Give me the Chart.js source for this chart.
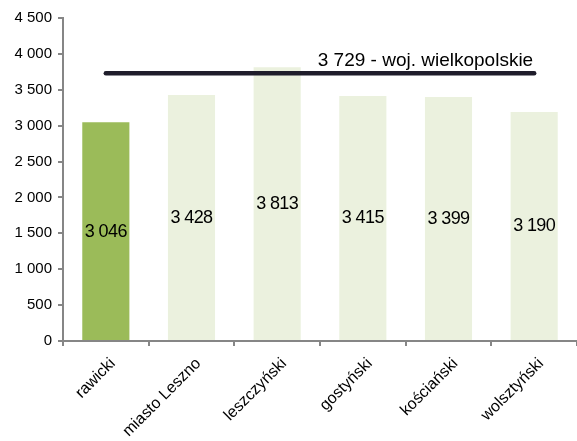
<!DOCTYPE html>
<html>
<head>
<meta charset="utf-8">
<script src="https://cdn.jsdelivr.net/npm/chart.js@4/dist/chart.umd.min.js"></script>
<style>
html,body{margin:0;padding:0;background:#fff;}
#wrap{width:577px;height:441px;}
</style>
</head>
<body>
<div id="wrap"><canvas id="c" width="577" height="441"></canvas></div>
<script>
const categories = ["rawicki", "miasto Leszno", "leszczyński", "gostyński", "kościański", "wolsztyński"];
const values = [3046, 3428, 3813, 3415, 3399, 3190];
const regionValue = 3729;
const regionLabel = "woj. wielkopolskie";
const yTicks = [0, 500, 1000, 1500, 2000, 2500, 3000, 3500, 4000, 4500];

const barColors = values.map((v, i) => i === 0 ? "#9BBB59" : "#EBF1DE");
const fmt = v => String(v).replace(/\B(?=(\d{3})+(?!\d))/g, " ");
const FONT = "'Liberation Sans', Arial, sans-serif";

const labelsPlugin = {
  id: "labelsPlugin",
  afterDatasetsDraw(chart) {
    const ctx = chart.ctx;
    const meta = chart.getDatasetMeta(0);
    const ys = chart.scales.y;
    const xs = chart.scales.x;
    ctx.save();
    ctx.fillStyle = "#000";
    ctx.font = "18px " + FONT;
    ctx.textAlign = "center";
    ctx.textBaseline = "middle";
    try { ctx.letterSpacing = "-0.6px"; } catch (e) {}
    meta.data.forEach((bar, i) => {
      const y = ys.getPixelForValue(values[i] / 2);
      ctx.fillText(fmt(values[i]), bar.x, y);
    });
    try { ctx.letterSpacing = "0px"; } catch (e) {}
    ctx.font = "19px " + FONT;
    ctx.textAlign = "right";
    ctx.textBaseline = "alphabetic";
    const lx = xs.getPixelForValue(categories.length - 1) - 1;
    const ly = ys.getPixelForValue(regionValue) - 7;
    ctx.fillText(fmt(regionValue) + " - " + regionLabel, lx, ly);

    // rotated category labels
    ctx.font = "16px " + FONT;
    ctx.textAlign = "right";
    ctx.textBaseline = "middle";
    categories.forEach((c, i) => {
      const x = xs.getPixelForValue(i) + 7;
      const y = xs.top + 20;
      ctx.save();
      ctx.translate(x, y);
      ctx.rotate(-Math.PI / 4);
      ctx.fillText(c, 0, 0);
      ctx.restore();
    });
    ctx.restore();
  }
};

new Chart(document.getElementById("c"), {
  type: "bar",
  data: {
    labels: categories,
    datasets: [
      {
        type: "bar",
        data: values,
        backgroundColor: barColors,
        borderWidth: 0,
        barPercentage: 0.55,
        categoryPercentage: 1.0,
        order: 2
      },
      {
        type: "line",
        data: categories.map(() => regionValue),
        borderColor: "#1F1D2B",
        borderWidth: 4.5,
        borderCapStyle: "round",
        pointRadius: 0,
        fill: false,
        order: 1
      }
    ]
  },
  options: {
    responsive: false,
    animation: false,
    devicePixelRatio: 1,
    layout: { padding: { top: 18, right: 0, left: 0, bottom: 0 } },
    plugins: { legend: { display: false }, tooltip: { enabled: false } },
    scales: {
      x: {
        offset: true,
        grid: { display: true, offset: true, drawOnChartArea: false, drawTicks: true, tickLength: 5, color: "#868686", lineWidth: 2 },
        border: { display: true, color: "#868686", width: 2 },
        ticks: { display: false },
        afterFit(scale) { scale.height = 100; }
      },
      y: {
        min: 0,
        max: 4500,
        afterBuildTicks(scale) { scale.ticks = yTicks.map(v => ({ value: v })); },
        grid: { display: true, drawOnChartArea: false, drawTicks: true, tickLength: 5, color: "#868686", lineWidth: 2 },
        border: { display: true, color: "#868686", width: 2 },
        ticks: {
          color: "#000",
          font: { family: FONT, size: 15 },
          padding: 6,
          callback: v => fmt(v)
        },
        afterFit(scale) { scale.width = 63; }
      }
    }
  },
  plugins: [labelsPlugin]
});
</script>
</body>
</html>
